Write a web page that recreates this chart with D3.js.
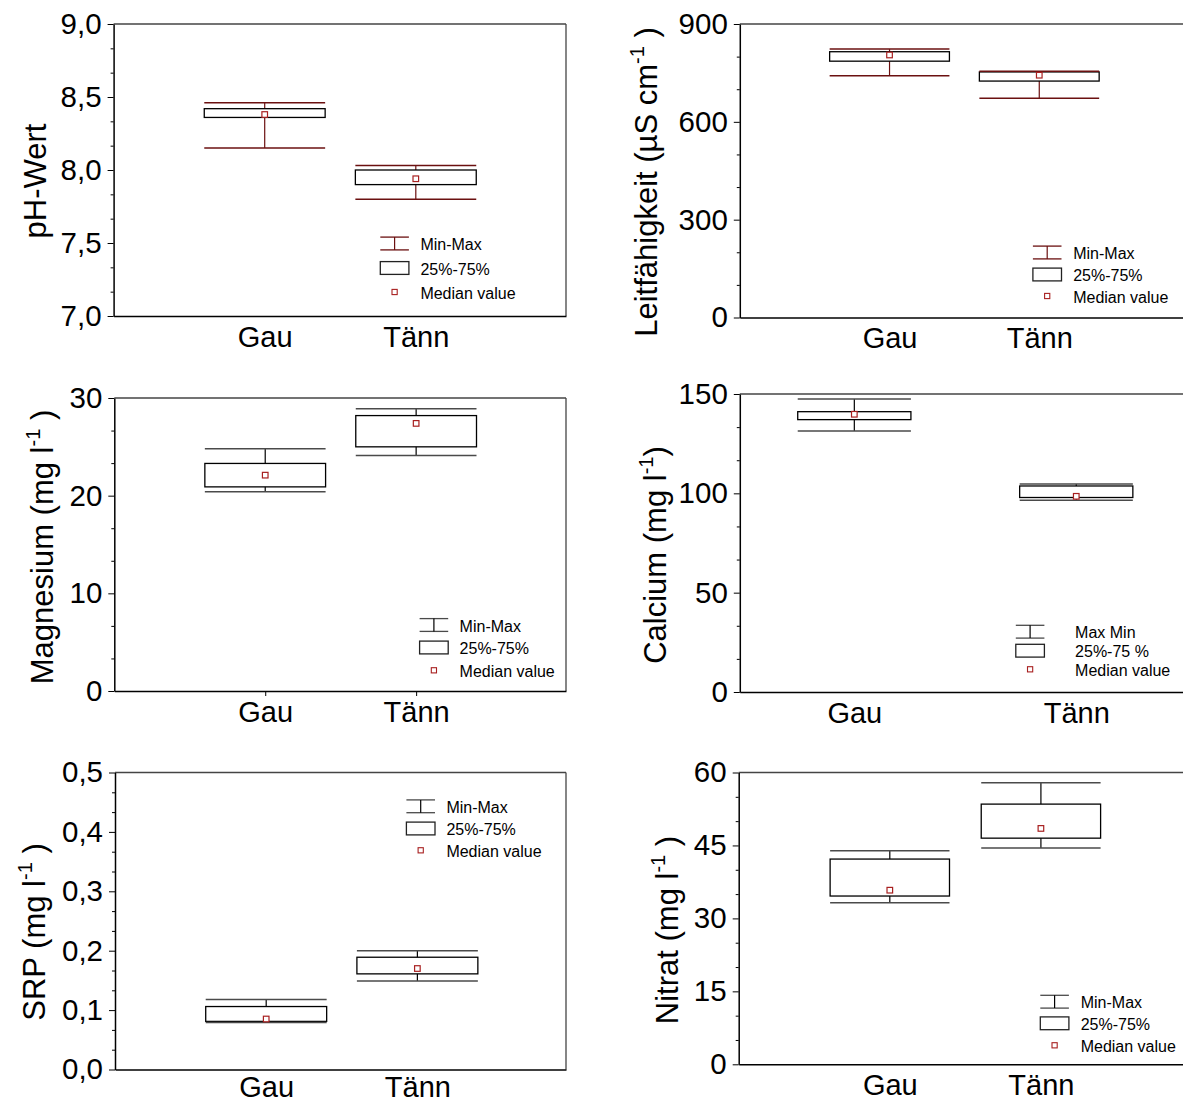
<!DOCTYPE html>
<html><head><meta charset="utf-8">
<script src="https://cdn.jsdelivr.net/npm/d3@7"></script>
<style>body{margin:0;background:#fff} text{font-family:"Liberation Sans",Arial,sans-serif;fill:#000}</style>
</head><body><svg id="c" width="1183" height="1106"></svg>
<script>
// ---------- data ----------
const categories = ["Gau", "Tänn"];

const phMin = [8.15, 7.80], phQ1 = [8.36, 7.90], phMedian = [8.38, 7.94], phQ3 = [8.42, 8.00], phMax = [8.46, 8.03];
const phTicks = [7.0, 7.5, 8.0, 8.5, 9.0];

const lfMin = [741, 672], lfQ1 = [786, 725], lfMedian = [805, 743], lfQ3 = [815, 753], lfMax = [823, 755];
const lfTicks = [0, 300, 600, 900];

const mgMin = [20.4, 24.1], mgQ1 = [20.9, 25.0], mgMedian = [22.1, 27.4], mgQ3 = [23.3, 28.2], mgMax = [24.8, 28.9];
const mgTicks = [0, 10, 20, 30];

const caMin = [131.4, 96.5], caQ1 = [137.1, 97.9], caMedian = [139.8, 98.5], caQ3 = [141.1, 103.7], caMax = [147.5, 104.7];
const caTicks = [0, 50, 100, 150];

const srpMin = [0.079, 0.149], srpQ1 = [0.081, 0.161], srpMedian = [0.085, 0.170], srpQ3 = [0.106, 0.189], srpMax = [0.118, 0.200];
const srpTicks = [0.0, 0.1, 0.2, 0.3, 0.4, 0.5];

const no3Min = [33.2, 44.5], no3Q1 = [34.6, 46.5], no3Median = [35.8, 48.5], no3Q3 = [42.2, 53.5], no3Max = [43.9, 57.9];
const no3Ticks = [0, 15, 30, 45, 60];

const legendLabels = ["Min-Max", "25%-75%", "Median value"];
const caLegendLabels = ["Max Min", "25%-75 %", "Median value"];

// ---------- layout ----------
const comma1 = d => d3.format(".1f")(d).replace(".", ",");
const int0 = d3.format("d");
const RED = "#6b1010", MED = "#a82020";
const FONT = '"Liberation Sans",Arial,sans-serif';

const panels = [
  {title: "pH-Wert", sup: null, tail: "", titleX: 46, titleY: 181,
   left: 113.6, right: 566, top: 24, bottom: 316, xDomain: [0, 2.994], bw: 0.8, lab: 31,
   ticks: phTicks, fmt: comma1, whisk: RED, cap: RED, xTick: 0,
   s: [phMin, phQ1, phMedian, phQ3, phMax],
   leg: {cx: 394.6, rows: [243.5, 268, 292], tx: 420.4, labels: legendLabels}},
  {title: "Leitfähigkeit (µS cm", sup: "-1", tail: " )", titleX: 657, titleY: 182,
   left: 739.8, right: 1189, top: 24, bottom: 317.5, xDomain: [0, 3.0], bw: 0.8, lab: 31,
   ticks: lfTicks, fmt: int0, whisk: RED, cap: RED, xTick: 0,
   s: [lfMin, lfQ1, lfMedian, lfQ3, lfMax],
   leg: {cx: 1047.2, rows: [252.5, 274.5, 296], tx: 1073.2, labels: legendLabels}},
  {title: "Magnesium (mg l", sup: "-1", tail: " )", titleX: 53, titleY: 547,
   left: 114.3, right: 566, top: 398, bottom: 691, xDomain: [0, 2.993], bw: 0.8, lab: 31,
   ticks: mgTicks, fmt: int0, whisk: "#000", cap: "#4a4a4a", xTick: 5,
   s: [mgMin, mgQ1, mgMedian, mgQ3, mgMax],
   leg: {cx: 433.9, rows: [625, 647.5, 670.3], tx: 459.6, labels: legendLabels}},
  {title: "Calcium (mg l", sup: "-1", tail: ")", titleX: 666, titleY: 555,
   left: 739.8, right: 1189, top: 394, bottom: 692, xDomain: [0.484, 2.508], bw: 0.51, lab: 31,
   ticks: caTicks, fmt: int0, whisk: "#000", cap: "#4a4a4a", xTick: 0,
   s: [caMin, caQ1, caMedian, caQ3, caMax],
   leg: {cx: 1030.1, rows: [631.7, 650.7, 669.3], tx: 1075.1, labels: caLegendLabels}},
  {title: "SRP (mg l", sup: "-1", tail: " )", titleX: 45, titleY: 932,
   left: 115, right: 566, top: 772.5, bottom: 1069.5, xDomain: [0, 2.983], bw: 0.8, lab: 28,
   ticks: srpTicks, fmt: comma1, whisk: "#000", cap: "#4a4a4a", xTick: 0,
   s: [srpMin, srpQ1, srpMedian, srpQ3, srpMax],
   leg: {cx: 420.7, rows: [806.3, 828.5, 850.3], tx: 446.4, labels: legendLabels}},
  {title: "Nitrat (mg l", sup: "-1", tail: " )", titleX: 678, titleY: 930,
   left: 738.7, right: 1189, top: 772.5, bottom: 1064.3, xDomain: [0, 2.98], bw: 0.79, lab: 31,
   ticks: no3Ticks, fmt: int0, whisk: "#000", cap: "#4a4a4a", xTick: 0,
   s: [no3Min, no3Q1, no3Median, no3Q3, no3Max],
   leg: {cx: 1054.6, rows: [1001.7, 1023.3, 1045.3], tx: 1080.7, labels: legendLabels}}
];

const svg = d3.select("#c");
svg.append("rect").attr("width", 1183).attr("height", 1106).attr("fill", "#fff");

function drawPanel(p) {
  const g = svg.append("g");
  const y = d3.scaleLinear().domain([p.ticks[0], p.ticks[p.ticks.length - 1]]).range([p.bottom, p.top]);
  const x = d3.scaleLinear().domain(p.xDomain).range([p.left, p.right]);

  // frame top / right
  g.append("line").attr("x1", p.left).attr("x2", p.right).attr("y1", p.top).attr("y2", p.top)
    .attr("stroke", "#444").attr("stroke-width", 1.3);
  g.append("line").attr("x1", p.right).attr("x2", p.right).attr("y1", p.top).attr("y2", p.bottom)
    .attr("stroke", "#444").attr("stroke-width", 1.3);

  // minor ticks
  const step = p.ticks[1] - p.ticks[0];
  const minor = [];
  for (let i = 0; i < p.ticks.length - 1; i++) {
    minor.push(p.ticks[i] + step / 3, p.ticks[i] + 2 * step / 3);
  }
  const ym = g.append("g").attr("transform", `translate(${p.left},0)`)
    .call(d3.axisLeft(y).tickValues(minor).tickSize(3).tickSizeOuter(0).tickFormat(""));
  ym.select(".domain").remove();
  const ya = g.append("g").attr("transform", `translate(${p.left},0)`)
    .call(d3.axisLeft(y).tickValues(p.ticks).tickSize(6).tickSizeOuter(0).tickPadding(6).tickFormat(p.fmt));
  ya.selectAll("text").attr("font-size", 29.5).attr("font-family", FONT);
  ya.select(".domain").attr("stroke-width", 1.5);
  g.selectAll(".tick line").attr("stroke", "#000");

  // x axis
  const xa = g.append("g").attr("transform", `translate(0,${p.bottom})`)
    .call(d3.axisBottom(x).tickValues([1, 2]).tickSize(p.xTick).tickSizeOuter(0)
      .tickPadding(p.lab - 20.6 - p.xTick).tickFormat(d => categories[d - 1]));
  xa.selectAll("text").attr("font-size", 29).attr("font-family", FONT);
  xa.select(".domain").attr("stroke-width", 1.5);

  // title
  const t = g.append("text").attr("transform", `translate(${p.titleX},${p.titleY}) rotate(-90)`)
    .attr("text-anchor", "middle").attr("font-size", 31);
  t.append("tspan").text(p.title);
  if (p.sup) {
    t.append("tspan").attr("font-size", 20).attr("dy", -13).text(p.sup);
    t.append("tspan").attr("dy", 13).text(p.tail);
  }

  // boxes
  const [mn, q1, md, q3, mx] = p.s;
  categories.forEach((c, i) => {
    const cx = i + 1;
    g.append("line").attr("x1", x(cx)).attr("x2", x(cx)).attr("y1", y(mx[i])).attr("y2", y(mn[i]))
      .attr("stroke", p.whisk).attr("stroke-width", 1.2);
    g.append("rect").attr("x", x(cx - p.bw / 2)).attr("y", y(q3[i]))
      .attr("width", x(cx + p.bw / 2) - x(cx - p.bw / 2)).attr("height", y(q1[i]) - y(q3[i]))
      .attr("fill", "#fff").attr("stroke", "#000").attr("stroke-width", 1.3);
    [mx[i], mn[i]].forEach(v => {
      g.append("line").attr("x1", x(cx - p.bw / 2)).attr("x2", x(cx + p.bw / 2))
        .attr("y1", y(v)).attr("y2", y(v)).attr("stroke", p.cap).attr("stroke-width", 1.5);
    });
    g.append("rect").attr("x", x(cx) - 2.8).attr("y", y(md[i]) - 2.8).attr("width", 5.6).attr("height", 5.6)
      .attr("fill", "#fff").attr("stroke", MED).attr("stroke-width", 1.2);
  });

  // legend
  const L = p.leg, hw = 14.3, hh = 6.4;
  const lg = g.append("g");
  lg.append("line").attr("x1", L.cx - hw).attr("x2", L.cx + hw).attr("y1", L.rows[0] - hh).attr("y2", L.rows[0] - hh)
    .attr("stroke", p.cap).attr("stroke-width", 1.3);
  lg.append("line").attr("x1", L.cx - hw).attr("x2", L.cx + hw).attr("y1", L.rows[0] + hh).attr("y2", L.rows[0] + hh)
    .attr("stroke", p.cap).attr("stroke-width", 1.3);
  lg.append("line").attr("x1", L.cx).attr("x2", L.cx).attr("y1", L.rows[0] - hh).attr("y2", L.rows[0] + hh)
    .attr("stroke", p.whisk).attr("stroke-width", 1.2);
  lg.append("rect").attr("x", L.cx - hw).attr("y", L.rows[1] - hh).attr("width", 2 * hw).attr("height", 2 * hh)
    .attr("fill", "#fff").attr("stroke", "#222").attr("stroke-width", 1.3);
  lg.append("rect").attr("x", L.cx - 2.6).attr("y", L.rows[2] - 2.6).attr("width", 5.2).attr("height", 5.2)
    .attr("fill", "#fff").attr("stroke", MED).attr("stroke-width", 1.1);
  L.labels.forEach((lab, k) => {
    lg.append("text").attr("x", L.tx).attr("y", L.rows[k] + 1).attr("dy", "0.35em")
      .attr("font-size", 16).text(lab);
  });
}

panels.forEach(drawPanel);
</script></body></html>
